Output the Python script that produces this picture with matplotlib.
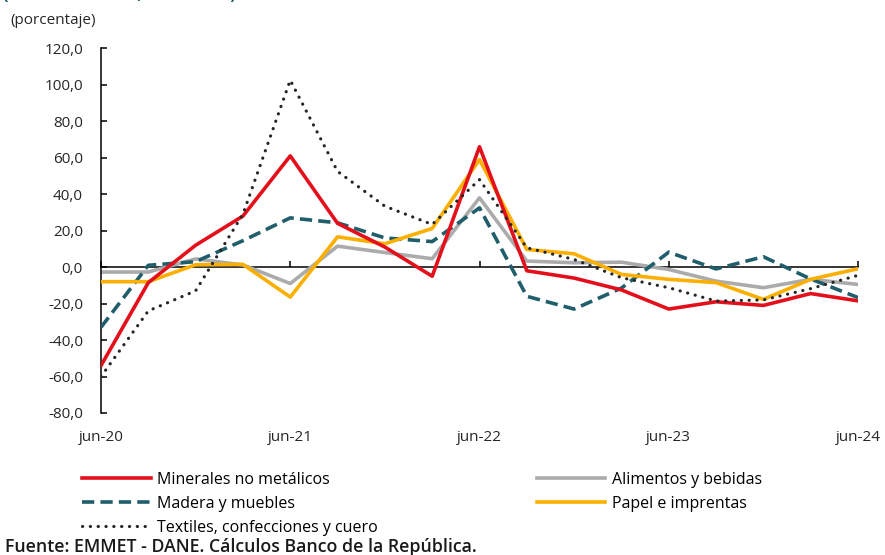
import matplotlib
matplotlib.use('Agg')
import matplotlib.pyplot as plt
import numpy as np

plt.rcParams['font.family'] = ['Open Sans', 'DejaVu Sans']

# trimestres jun-20 ... jun-24
trimestres = ['jun-20', 'sep-20', 'dic-20', 'mar-21', 'jun-21', 'sep-21', 'dic-21', 'mar-22',
              'jun-22', 'sep-22', 'dic-22', 'mar-23', 'jun-23', 'sep-23', 'dic-23', 'mar-24', 'jun-24']
xtick_labels = ['jun-20', 'jun-21', 'jun-22', 'jun-23', 'jun-24']

minerales = [-54, -8.5, 12, 28, 61, 24, 11, -5, 66, -2, -6, -12.5, -23, -19, -21, -14.5, -18.5]
alimentos = [-2.7, -2.7, 4.5, 1.2, -9, 11.5, 8, 4.6, 38, 3.3, 2.4, 2.7, -1.3, -7.7, -11.3, -6.7, -9.5]
madera = [-33, 1, 3, 14.5, 27, 24.3, 16, 14, 32.5, -16, -23, -11.5, 8.2, -1, 5.7, -6.5, -16.7]
papel = [-8, -8, 1.3, 1.5, -16.4, 16.6, 12.8, 21.2, 59, 9.7, 7.3, -4, -6.7, -8.5, -17.7, -6.7, -0.9]
textiles = [-60, -24, -13, 29, 102.5, 52.5, 33.4, 23.4, 48, 10.6, 4.2, -5.8, -11.3, -18.6, -18, -11.8, -4.5]

yticks = [120, 100, 80, 60, 40, 20, 0, -20, -40, -60, -80]

fig = plt.figure(figsize=(8.85, 5.55), dpi=100, facecolor='w')
ax = fig.add_axes([101/885, 1 - 413/555, (858 - 101)/885, (413 - 48.3)/555])

x = np.arange(len(trimestres))

ax.plot(x, minerales, color='#E3101B', lw=2.6, label='Minerales no metálicos', zorder=5)
ax.plot(x, madera, color='#205E6C', lw=2.6, linestyle=(0, (3.4, 1.7)),
        label='Madera y muebles', zorder=3)
ax.plot(x, textiles, color='#262626', lw=2.3, linestyle=(0, (0.05, 2.4)),
        dash_capstyle='round', label='Textiles, confecciones y cuero', zorder=6)
ax.plot(x, alimentos, color='#ABABAB', lw=2.6, label='Alimentos y bebidas', zorder=2)
ax.plot(x, papel, color='#FBAF00', lw=2.6, label='Papel e imprentas', zorder=4)

ax.set_xlim(0, len(trimestres) - 1)
ax.set_ylim(-80, 120)

for s in ['top', 'right', 'bottom']:
  ax.spines[s].set_visible(False)
ax.spines['left'].set_linewidth(1.1)

ax.set_yticks(yticks)
ax.set_yticklabels([f'{v:.1f}'.replace('.', ',') for v in yticks])
ax.tick_params(axis='y', direction='in', length=4, width=1.1, pad=13,
               labelsize=11, labelcolor='#262626')

ax.set_xticks(x[::4])
ax.set_xticklabels(xtick_labels)
ax.tick_params(axis='x', length=0, pad=12, labelsize=11, labelcolor='#262626')

# linea del cero con marcas
zero = ax.secondary_xaxis(0.4)
zero.set_xticks(x[::4])
zero.tick_params(direction='in', length=4.5, width=1.1, labelbottom=False)
zero.spines['bottom'].set_linewidth(1.1)

fig.text(10/885, 1 - 20/555, '(porcentaje)', fontsize=11, color='#262626',
         ha='left', va='center')
fig.text(3/885, 1 + 1.5/555, '(variación anual, trimestral)', fontsize=12,
         color='#205E6C', fontweight='bold', ha='left', va='baseline')
fig.text(5/885, 1 - 547/555, 'Fuente: EMMET - DANE. Cálculos Banco de la República.',
         fontsize=12.8, fontweight='semibold', color='#1a1a1a', ha='left', va='center')

ax.legend(loc='upper left', bbox_to_anchor=(82/885, 1 - 472/555),
          bbox_transform=fig.transFigure, ncol=2, frameon=False,
          fontsize=11.5, handlelength=4.3, handletextpad=0.4,
          columnspacing=9.95, labelspacing=0.5, borderpad=0, borderaxespad=0)

fig.savefig('out.png', dpi=100)
